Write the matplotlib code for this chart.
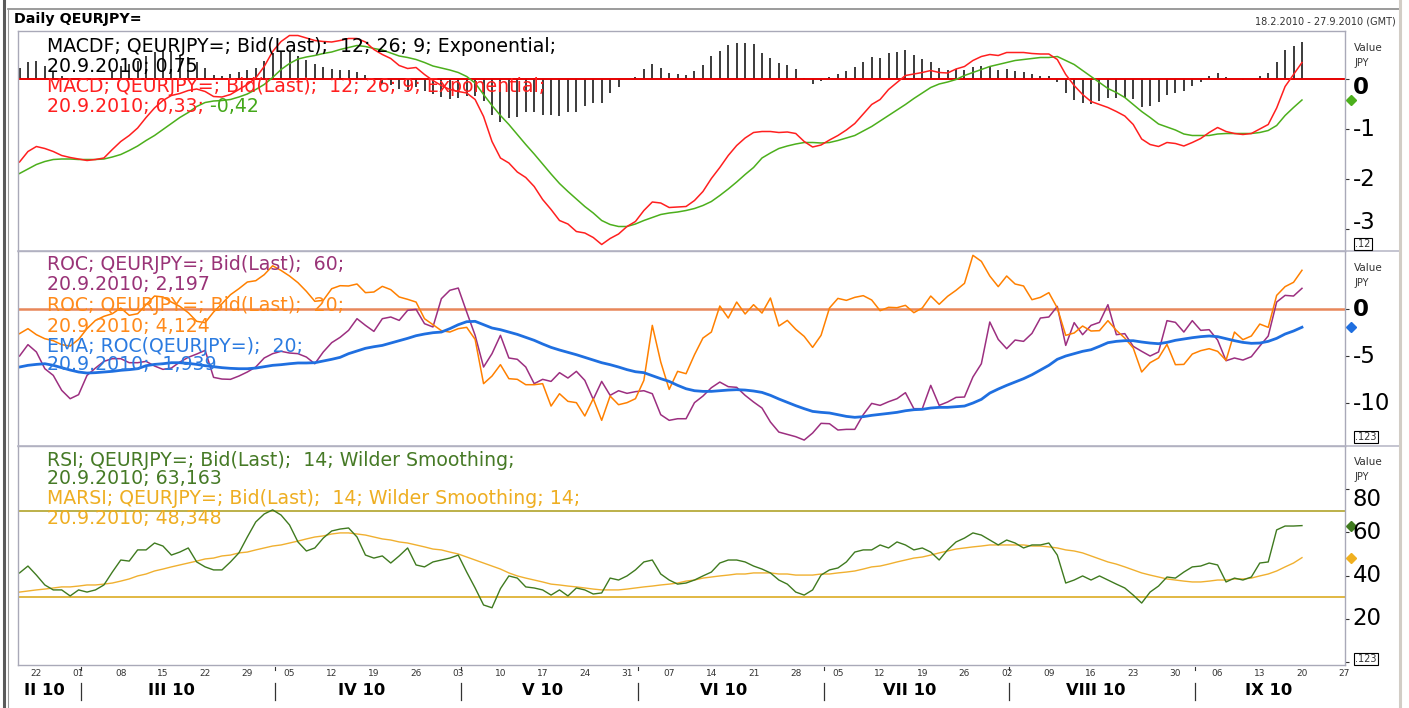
"""
Daily QEURJPY= indicator panels (MACD, ROC, RSI)
"""

import matplotlib
matplotlib.use("Agg")
import matplotlib.pyplot as plt
from matplotlib.lines import Line2D
from matplotlib.transforms import blended_transform_factory
import numpy as np
import pandas as pd

plt.rcParams["font.family"] = ["DejaVu Sans"]

# business days shown on the axis; data runs 18.2.2010 - 20.9.2010
days = pd.bdate_range("2010-02-18", "2010-09-27")

macd = [
    -1.66, -1.45, -1.35, -1.39, -1.45, -1.53, -1.57, -1.60, -1.63, -1.61,
    -1.58, -1.41, -1.25, -1.13, -0.98, -0.77, -0.58, -0.43, -0.33, -0.29,
    -0.23, -0.20, -0.25, -0.35, -0.36, -0.31, -0.21, -0.11, 0.02, 0.25,
    0.55, 0.75, 0.87, 0.87, 0.82, 0.77, 0.75, 0.74, 0.77, 0.81,
    0.81, 0.74, 0.59, 0.49, 0.41, 0.27, 0.21, 0.23, 0.09, -0.03,
    -0.13, -0.21, -0.25, -0.28, -0.41, -0.75, -1.25, -1.58, -1.68, -1.86,
    -1.97, -2.15, -2.41, -2.61, -2.83, -2.90, -3.05, -3.08, -3.17, -3.31,
    -3.19, -3.10, -2.95, -2.85, -2.63, -2.46, -2.48, -2.57, -2.56, -2.55,
    -2.43, -2.25, -1.99, -1.77, -1.53, -1.33, -1.18, -1.07, -1.05, -1.05,
    -1.07, -1.06, -1.09, -1.25, -1.36, -1.32, -1.22, -1.13, -1.02, -0.89,
    -0.70, -0.51, -0.41, -0.21, -0.07, 0.07, 0.10, 0.13, 0.17, 0.13,
    0.12, 0.20, 0.25, 0.37, 0.45, 0.49, 0.47, 0.53, 0.53, 0.53,
    0.51, 0.50, 0.50, 0.39, 0.09, -0.13, -0.31, -0.45, -0.51, -0.57,
    -0.65, -0.74, -0.91, -1.20, -1.31, -1.35, -1.27, -1.29, -1.34, -1.27,
    -1.19, -1.07, -0.97, -1.05, -1.09, -1.11, -1.09, -1.00, -0.91, -0.58,
    -0.15, 0.09, 0.33,
]
signal = [
    -1.89, -1.80, -1.71, -1.65, -1.61, -1.60, -1.60, -1.61, -1.61, -1.61,
    -1.60, -1.56, -1.51, -1.43, -1.34, -1.23, -1.13, -1.01, -0.89, -0.77,
    -0.67, -0.55, -0.47, -0.44, -0.43, -0.41, -0.36, -0.30, -0.21, -0.11,
    0.03, 0.19, 0.31, 0.40, 0.44, 0.47, 0.51, 0.54, 0.59, 0.63,
    0.67, 0.65, 0.61, 0.58, 0.52, 0.46, 0.43, 0.39, 0.33, 0.26,
    0.22, 0.18, 0.13, 0.05, -0.08, -0.31, -0.53, -0.73, -0.91, -1.11,
    -1.31, -1.50, -1.70, -1.90, -2.09, -2.25, -2.40, -2.55, -2.68, -2.83,
    -2.91, -2.95, -2.95, -2.90, -2.83, -2.77, -2.71, -2.68, -2.66, -2.63,
    -2.59, -2.53, -2.45, -2.33, -2.20, -2.06, -1.91, -1.77, -1.58, -1.48,
    -1.39, -1.34, -1.30, -1.27, -1.27, -1.28, -1.27, -1.23, -1.18, -1.13,
    -1.04, -0.95, -0.84, -0.73, -0.62, -0.51, -0.39, -0.28, -0.17, -0.10,
    -0.06, -0.01, 0.07, 0.13, 0.19, 0.25, 0.29, 0.33, 0.37, 0.39,
    0.41, 0.43, 0.43, 0.45, 0.37, 0.29, 0.17, 0.05, -0.07, -0.19,
    -0.27, -0.37, -0.51, -0.65, -0.77, -0.90, -0.96, -1.02, -1.10, -1.13,
    -1.13, -1.13, -1.10, -1.09, -1.09, -1.09, -1.09, -1.07, -1.03, -0.93,
    -0.73, -0.57, -0.42,
]
roc60 = [
    -5.00, -3.79, -4.57, -6.35, -7.06, -8.65, -9.54, -9.11, -7.06, -6.28,
    -5.57, -5.28, -5.28, -5.71, -5.71, -5.57, -6.06, -6.42, -6.28, -5.64,
    -5.14, -4.79, -4.40, -7.27, -7.45, -7.48, -7.13, -6.70, -6.17, -5.21,
    -4.75, -4.50, -4.68, -4.75, -5.11, -5.82, -4.57, -3.58, -3.01, -2.27,
    -1.03, -1.74, -2.38, -1.03, -0.85, -1.21, -0.14, -0.04, -1.56, -1.91,
    1.10, 1.99, 2.23, -0.32, -2.80, -6.17, -4.75, -2.80, -5.21, -5.35,
    -6.17, -7.94, -7.48, -7.70, -6.77, -7.34, -6.63, -7.59, -9.61, -7.70,
    -9.18, -8.69, -8.97, -8.79, -8.69, -9.01, -11.24, -11.84, -11.67, -11.67,
    -9.96, -9.26, -8.37, -7.77, -8.26, -8.33, -9.18, -9.89, -10.53, -12.02,
    -13.09, -13.33, -13.58, -13.94, -13.19, -12.16, -12.20, -12.87, -12.80, -12.80,
    -11.24, -10.04, -10.25, -9.86, -9.54, -8.90, -10.60, -10.60, -8.12, -10.25,
    -9.89, -9.40, -9.36, -7.23, -5.82, -1.38, -3.23, -4.22, -3.30, -3.44,
    -2.59, -0.96, -0.85, 0.28, -3.87, -1.45, -2.73, -1.74, -1.42, 0.46,
    -2.73, -2.62, -3.97, -4.50, -5.00, -4.57, -1.24, -1.42, -2.45, -1.24,
    -2.27, -2.20, -3.30, -5.50, -5.21, -5.43, -5.07, -3.94, -2.87, 0.74,
    1.45, 1.38, 2.20,
]
roc20 = [
    -2.62, -2.09, -2.73, -3.16, -3.37, -3.79, -3.94, -3.23, -2.09, -1.21,
    -0.78, -0.50, 0.11, -0.67, -0.50, 0.46, 1.38, 1.28, 0.74, 0.28,
    -0.39, -1.31, -1.45, -0.32, 0.57, 1.52, 2.16, 2.87, 3.01, 3.65,
    4.60, 4.10, 3.51, 2.80, 1.88, 0.82, 0.92, 2.16, 2.48, 2.45,
    2.66, 1.74, 1.81, 2.41, 2.06, 1.28, 1.03, 0.74, -1.03, -1.67,
    -2.30, -2.45, -2.09, -1.95, -3.23, -7.94, -7.13, -5.92, -7.41, -7.48,
    -8.05, -8.05, -7.94, -10.32, -9.01, -9.82, -9.96, -11.38, -9.54, -11.84,
    -9.26, -10.18, -9.96, -9.54, -7.59, -1.74, -5.64, -8.55, -6.63, -6.88,
    -4.86, -3.09, -2.45, 0.32, -0.96, 0.74, -0.53, 0.46, -0.43, 1.17,
    -1.81, -1.21, -2.16, -2.91, -4.08, -2.80, 0.11, 1.13, 0.92, 1.24,
    1.42, 0.96, -0.18, 0.18, 0.14, 0.39, -0.39, 0.11, 1.38, 0.50,
    1.35, 1.99, 2.73, 5.71, 5.07, 3.51, 2.38, 3.51, 2.66, 2.45,
    0.99, 1.24, 1.74, 0.11, -2.80, -2.55, -1.81, -2.34, -2.30, -1.24,
    -2.27, -3.09, -4.15, -6.70, -5.71, -5.21, -3.76, -5.92, -5.89, -4.79,
    -4.43, -4.22, -4.50, -5.46, -2.45, -3.26, -2.87, -1.60, -1.95, 1.45,
    2.38, 2.84, 4.12,
]
roc_ema = [
    -6.17, -5.99, -5.89, -5.82, -5.99, -6.24, -6.49, -6.70, -6.81, -6.77,
    -6.70, -6.63, -6.52, -6.45, -6.35, -6.03, -5.89, -5.82, -5.71, -5.71,
    -5.78, -5.89, -6.03, -6.13, -6.24, -6.31, -6.35, -6.35, -6.28, -6.13,
    -5.99, -5.92, -5.82, -5.74, -5.74, -5.71, -5.53, -5.35, -5.14, -4.75,
    -4.47, -4.18, -4.01, -3.87, -3.62, -3.37, -3.12, -2.84, -2.66, -2.52,
    -2.45, -2.09, -1.67, -1.35, -1.31, -1.67, -2.02, -2.20, -2.45, -2.70,
    -3.01, -3.33, -3.72, -4.08, -4.36, -4.61, -4.86, -5.14, -5.43, -5.71,
    -5.92, -6.17, -6.45, -6.67, -6.77, -7.09, -7.41, -7.70, -8.12, -8.48,
    -8.69, -8.76, -8.76, -8.69, -8.62, -8.58, -8.62, -8.72, -8.87, -9.18,
    -9.57, -9.93, -10.28, -10.60, -10.89, -10.99, -11.06, -11.24, -11.42, -11.52,
    -11.45, -11.31, -11.21, -11.10, -10.99, -10.82, -10.71, -10.67, -10.53, -10.46,
    -10.46, -10.39, -10.32, -10.00, -9.61, -8.94, -8.51, -8.12, -7.77, -7.41,
    -6.99, -6.49, -5.99, -5.35, -5.00, -4.75, -4.50, -4.33, -3.97, -3.58,
    -3.44, -3.37, -3.37, -3.51, -3.62, -3.69, -3.55, -3.33, -3.19, -3.05,
    -2.94, -2.87, -2.94, -3.16, -3.37, -3.55, -3.65, -3.62, -3.44, -3.12,
    -2.66, -2.34, -1.94,
]
rsi = [
    41.2, 44.4, 40.2, 35.6, 33.3, 33.3, 30.5, 33.3, 32.3, 33.3,
    35.6, 41.6, 47.2, 46.7, 51.9, 51.9, 55.1, 53.7, 49.5, 50.9,
    52.8, 46.3, 44.0, 42.6, 42.6, 46.3, 50.5, 57.9, 64.9, 68.6,
    70.5, 68.1, 63.5, 55.6, 51.4, 52.8, 57.4, 60.7, 61.6, 62.1,
    57.9, 49.5, 48.1, 49.1, 45.8, 49.1, 52.8, 44.9, 44.0, 46.3,
    47.2, 48.1, 49.5, 41.6, 34.2, 26.3, 25.0, 33.9, 39.8, 38.8,
    34.7, 34.2, 33.3, 30.9, 33.3, 30.5, 34.2, 33.3, 31.4, 31.9,
    38.8, 37.9, 39.8, 42.6, 46.3, 47.2, 40.7, 37.9, 36.0, 36.5,
    37.9, 39.8, 41.6, 45.8, 47.2, 47.2, 46.3, 44.4, 43.0, 41.2,
    37.9, 36.0, 32.3, 30.9, 33.3, 40.2, 42.6, 43.5, 46.3, 50.9,
    51.9, 51.9, 54.2, 52.8, 55.6, 54.2, 51.9, 52.8, 50.9, 47.2,
    51.9, 55.6, 57.4, 59.8, 58.8, 56.5, 54.2, 56.5, 55.1, 52.8,
    54.2, 54.2, 55.1, 49.5, 36.5, 37.9, 39.8, 37.9, 39.8, 37.9,
    36.0, 34.2, 30.9, 27.2, 32.3, 35.1, 39.3, 38.8, 41.6, 44.0,
    44.4, 45.8, 44.9, 37.0, 38.8, 37.9, 39.3, 45.8, 46.3, 61.2,
    63.0, 63.0, 63.2,
]
marsi = [
    32.3, 32.8, 33.3, 33.7, 34.2, 34.7, 34.7, 35.1, 35.6, 35.6,
    36.0, 36.5, 37.4, 38.4, 39.8, 40.7, 42.1, 43.0, 44.0, 44.9,
    45.8, 46.7, 47.7, 48.1, 49.1, 49.5, 50.5, 50.9, 51.9, 52.8,
    53.7, 54.2, 55.1, 56.0, 57.0, 57.9, 58.4, 59.3, 59.8, 59.8,
    59.3, 58.8, 57.9, 57.0, 56.5, 55.6, 55.1, 54.2, 53.3, 52.3,
    51.9, 50.9, 50.0, 48.6, 47.2, 45.8, 44.4, 43.0, 41.2, 39.8,
    38.8, 37.9, 37.0, 36.0, 35.6, 35.1, 34.7, 34.2, 33.7, 33.3,
    33.3, 33.3, 33.7, 34.2, 34.7, 35.1, 35.6, 36.0, 36.5, 37.4,
    37.9, 38.8, 39.3, 39.8, 40.2, 40.7, 40.7, 41.2, 41.2, 41.2,
    40.7, 40.7, 40.2, 40.2, 40.2, 40.7, 40.7, 41.2, 41.6, 42.1,
    43.0, 44.0, 44.4, 45.3, 46.3, 47.2, 48.1, 48.6, 49.5, 50.5,
    51.4, 52.3, 52.8, 53.3, 53.7, 54.2, 54.2, 54.2, 54.2, 54.2,
    53.7, 53.7, 53.3, 52.8, 51.9, 51.4, 50.5, 49.1, 47.7, 46.3,
    45.3, 44.0, 42.6, 41.2, 40.2, 39.3, 38.4, 37.9, 37.4, 37.0,
    37.0, 37.4, 37.9, 37.9, 38.4, 38.4, 38.8, 39.8, 40.7, 42.1,
    44.0, 45.8, 48.3,
]

roman = {2: "II", 3: "III", 4: "IV", 5: "V", 6: "VI", 7: "VII", 8: "VIII", 9: "IX"}

W, H = 1409, 708
LEG = 13.6   # legend font size
fig = plt.figure(figsize=(W / 100, H / 100), dpi=100)
fig.patch.set_facecolor("white")


def fx(x):
    return x / W


def fy(y):
    return 1 - y / H


def fig_line(xs, ys, color, lw):
    fig.add_artist(Line2D([fx(v) for v in xs], [fy(v) for v in ys],
                          transform=fig.transFigure, color=color, lw=lw))


def fig_text(x, y, s, **kw):
    kw.setdefault("va", "center")
    kw.setdefault("ha", "left")
    return fig.text(fx(x), fy(y), s, **kw)


def add_panel(top, bottom):
    ax = fig.add_axes([fx(18), fy(bottom), fx(1345 - 18), (bottom - top) / H])
    ax.set_xlim(-0.18, 157.1)
    for sp in ax.spines.values():
        sp.set_color("#a9a9b8")
        sp.set_linewidth(1.0)
    ax.set_xticks([])
    ax.yaxis.tick_right()
    ax.tick_params(axis="y", length=3, width=0.8, color="#333333",
                   labelright=False)
    return ax


def right_label(ax, v, s, bold=False, dy=0):
    ax.annotate(s, xy=(1, v), xycoords=("axes fraction", "data"),
                xytext=(5.5, dy), textcoords="offset points", ha="left",
                va="center", fontsize=16.5, color="black",
                fontweight="bold" if bold else "normal", annotation_clip=False)


x = np.arange(len(macd))

# --- MACD panel
ax1 = add_panel(31, 251)
ax1.set_ylim(-3.44, 0.96)
hist = np.array(macd) - np.array(signal)
ax1.vlines(x, 0, hist, color="#1a1a1a", lw=1.2)
ax1.axhline(0, color="#e60000", lw=1.4)
ax1.plot(x, signal, color="#4caf1c", lw=1.1)
ax1.plot(x, macd, color="#ff1f1f", lw=1.1)
ax1.set_yticks([-3, -2, -1, 0])
right_label(ax1, 0, "0", bold=True, dy=-6)
right_label(ax1, -1, "-1")
right_label(ax1, -2, "-2")
right_label(ax1, -3, "-3", dy=5)
ax1.plot([157.85], [signal[-1]], marker="D", ms=5, color="#4caf1c",
         clip_on=False, lw=0)

# --- ROC panel
ax2 = add_panel(251, 446)
ax2.set_ylim(-14.57, 6.17)
ax2.axhline(0, color="#e8875a", lw=1.8)
ax2.plot(np.arange(len(roc60)), roc60, color="#9c2f80", lw=1.1)
ax2.plot(np.arange(len(roc20)), roc20, color="#ff8000", lw=1.1)
ax2.plot(np.arange(len(roc_ema)), roc_ema, color="#1f6fe0", lw=2.0)
ax2.set_yticks([-10, -5, 0])
right_label(ax2, 0, "0", bold=True)
for v in [-5, -10]:
    right_label(ax2, v, str(v))
ax2.plot([157.85], [roc_ema[-1]], marker="D", ms=5, color="#1f6fe0",
         clip_on=False, lw=0)

# --- RSI panel
ax3 = add_panel(446, 665)
ax3.set_ylim(-1.6, 100.2)
ax3.axhline(70, color="#bcb04a", lw=1.4)
ax3.axhline(30, color="#d8a410", lw=1.1)
ax3.plot(np.arange(len(marsi)), marsi, color="#f0b030", lw=1.0)
ax3.plot(np.arange(len(rsi)), rsi, color="#3f7a1f", lw=1.0)
ax3.set_yticks([0, 20, 40, 60, 80])
right_label(ax3, 80, "80", dy=-7.5)
for v in [20, 40, 60]:
    right_label(ax3, v, str(v))
ax3.plot([157.85], [rsi[-1]], marker="D", ms=5, color="#3f7a1f",
         clip_on=False, lw=0)
ax3.plot([157.85], [marsi[-1]], marker="D", ms=5, color="#f0b020",
         clip_on=False, lw=0)

# --- date axis under the RSI panel
mondays = np.where(days.dayofweek == 0)[0]
ax3.set_xticks(mondays)
ax3.set_xticklabels(days[mondays].strftime("%d"), fontsize=6.5, color="#333333")
ax3.tick_params(axis="x", length=0, pad=3)
trans = blended_transform_factory(ax3.transData, ax3.transAxes)
months = pd.Series(np.arange(len(days)), index=days).groupby(days.month)
for m, idx in months:
    ax3.text(idx.mean(), -0.118, f"{roman[m]} 10", transform=trans,
             ha="center", va="center", fontsize=11.8, fontweight="bold")
    if m > 2:
        xs = idx.iloc[0] + 0.3
        ax3.plot([xs, xs], [-0.082, -0.16], color="#333333", lw=0.9,
                 transform=trans, clip_on=False)
        ax3.plot([xs, xs], [-0.01, -0.025], color="#333333", lw=0.8,
                 transform=trans, clip_on=False)

# --- legends inside the panels
fig_text(47, 47, "MACDF; QEURJPY=; Bid(Last);  12; 26; 9; Exponential;",
         fontsize=LEG, color="black")
fig_text(47, 67, "20.9.2010; 0,75", fontsize=LEG, color="black")
fig_text(47, 87, "MACD; QEURJPY=; Bid(Last);  12; 26; 9; Exponential;",
         fontsize=LEG, color="#ff1f1f")
t = fig_text(47, 106, "20.9.2010; 0,33;", fontsize=LEG, color="#ff1f1f")
ax1.annotate(" -0,42", xy=(1, 0.5), xycoords=t, ha="left", va="center",
             fontsize=LEG, color="#44a81a", annotation_clip=False)

fig_text(47, 265, "ROC; QEURJPY=; Bid(Last);  60;", fontsize=LEG, color="#993377")
fig_text(47, 285, "20.9.2010; 2,197", fontsize=LEG, color="#993377")
fig_text(47, 306, "ROC; QEURJPY=; Bid(Last);  20;", fontsize=LEG, color="#ff8a1a")
fig_text(47, 326, "20.9.2010; 4,124", fontsize=LEG, color="#ff8a1a")
fig_text(47, 346, "EMA; ROC(QEURJPY=);  20;", fontsize=LEG, color="#2b7be0")
fig_text(47, 365, "20.9.2010; -1,939", fontsize=LEG, color="#2b7be0")

fig_text(47, 460, "RSI; QEURJPY=; Bid(Last);  14; Wilder Smoothing;",
         fontsize=LEG, color="#467a26")
fig_text(47, 479, "20.9.2010; 63,163", fontsize=LEG, color="#467a26")
fig_text(47, 499, "MARSI; QEURJPY=; Bid(Last);  14; Wilder Smoothing; 14;",
         fontsize=LEG, color="#eeae22")
fig_text(47, 519, "20.9.2010; 48,348", fontsize=LEG, color="#eeae22")

# --- right axis captions
for y0 in [48, 268, 462]:
    fig_text(1354, y0, "Value", fontsize=7.5, color="#333333")
    fig_text(1354, y0 + 15, "JPY", fontsize=7, color="#333333")
for y0, s in [(244, ".12"), (437, ".123"), (659, ".123")]:
    fig_text(1355, y0, s, fontsize=7, color="#333333",
             bbox=dict(boxstyle="square,pad=0.15", fc="white", ec="black", lw=0.8))

# --- header and frame
fig_text(14, 19, "Daily QEURJPY=", fontsize=10.3, fontweight="bold")
fig_text(1396, 22, "18.2.2010 - 27.9.2010 (GMT)", fontsize=7, ha="right",
         color="#333333")
fig_line([8, 1400], [9, 9], "#8a8a8a", 1.2)
fig_line([18, 1400], [251, 251], "#b4b4c4", 1.1)
fig_line([18, 1400], [446, 446], "#b4b4c4", 1.1)
fig_line([4, 4], [0, 708], "#5a5a5a", 2.2)
fig_line([8, 8], [9, 708], "#9a9a9a", 0.8)
fig_line([1400, 1400], [0, 708], "#d2cdc6", 2.2)

fig.savefig("out.png", dpi=100)
